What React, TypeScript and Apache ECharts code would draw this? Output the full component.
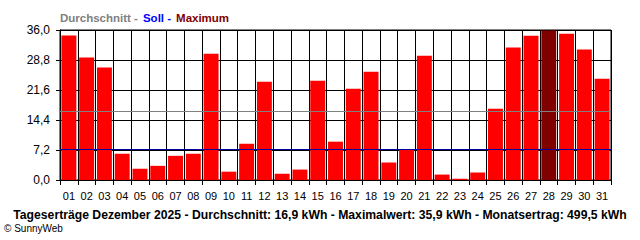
import React, { useEffect, useRef } from "react";
import * as echarts from "echarts";

const days = ["01","02","03","04","05","06","07","08","09","10","11","12","13","14","15","16","17","18","19","20","21","22","23","24","25","26","27","28","29","30","31"];
const dailyYield = [34.7, 29.4, 27.0, 6.3, 2.7, 3.4, 5.8, 6.3, 30.3, 2.0, 8.7, 23.6, 1.5, 2.5, 23.8, 9.2, 21.9, 26.0, 4.2, 7.3, 29.8, 1.3, 0.3, 1.8, 17.1, 31.8, 34.6, 35.9, 35.1, 31.3, 24.3];
const averageLine = 16.6;
const targetLine = 7.4;
const yTicks = { min: 0, max: 36, interval: 7.2 };
const footerText = "Tageserträge Dezember 2025 - Durchschnitt: 16,9 kWh - Maximalwert: 35,9 kWh - Monatsertrag: 499,5 kWh";

export default function App() {
  const ref = useRef<HTMLDivElement>(null);
  useEffect(() => {
    if (!ref.current) return;
    const chart = echarts.init(ref.current, null, { renderer: "svg" });
    const maxVal = Math.max(...dailyYield);
    const font = "'Liberation Sans', Arial, sans-serif";
    chart.setOption({
      animation: false,
      backgroundColor: "#ffffff",
      textStyle: { fontFamily: font },
      title: [
        {
          left: 60,
          top: 9,
          padding: 0,
          text: "{a|Durchschnitt -} {b|Soll -} {c|Maximum}",
          textStyle: {
            rich: {
              a: { color: "#808080", fontWeight: "bold", fontSize: 11.5, fontFamily: font },
              b: { color: "#0000ff", fontWeight: "bold", fontSize: 11.5, fontFamily: font },
              c: { color: "#800000", fontWeight: "bold", fontSize: 11.5, fontFamily: font },
            },
          },
        },
        {
          left: "center",
          top: 209,
          padding: 0,
          text: footerText,
          textStyle: { color: "#000", fontWeight: "bold", fontSize: 12.2, fontFamily: font },
        },
        {
          left: 4,
          top: 223,
          padding: 0,
          text: "© SunnyWeb",
          textStyle: { color: "#000", fontWeight: "normal", fontSize: 10, fontFamily: font },
        },
      ],
      grid: {
        left: 60,
        right: 29,
        top: 30,
        bottom: 60,
        show: true,
        borderColor: "#000",
        borderWidth: 1,
        backgroundColor: "transparent",
      },
      xAxis: {
        type: "category",
        data: days,
        boundaryGap: true,
        axisLine: { show: true, lineStyle: { color: "#000", width: 1 } },
        axisTick: { show: true, length: 5, lineStyle: { color: "#000" } },
        splitLine: { show: true, lineStyle: { color: "#000", width: 1 } },
        axisLabel: { interval: 0, color: "#000", fontSize: 11, margin: 10, fontFamily: font },
      },
      yAxis: {
        type: "value",
        min: yTicks.min,
        max: yTicks.max,
        interval: yTicks.interval,
        axisLine: { show: true, lineStyle: { color: "#000" } },
        axisTick: { show: true, length: 4, lineStyle: { color: "#000" } },
        splitLine: { show: true, lineStyle: { color: "#000", width: 1 } },
        axisLabel: {
          color: "#000",
          fontSize: 12,
          margin: 10,
          fontFamily: font,
          formatter: (v: number) => v.toFixed(1).replace(".", ","),
        },
      },
      series: [
        {
          type: "bar",
          barCategoryGap: "16%",
          data: dailyYield.map((v) => ({
            value: v,
            itemStyle: { color: v === maxVal ? "#800000" : "#ff0000" },
          })),
          markLine: {
            silent: true,
            symbol: "none",
            label: { show: false },
            data: [
              { yAxis: averageLine, lineStyle: { color: "#808080", width: 1, type: "solid" } },
              { yAxis: targetLine, lineStyle: { color: "#0000a0", width: 1, type: "solid" } },
            ],
          },
        },
      ],
    });
    return () => chart.dispose();
  }, []);
  return <div ref={ref} style={{ width: 640, height: 240, position: "absolute", left: 0, top: 0 }} />;
}
